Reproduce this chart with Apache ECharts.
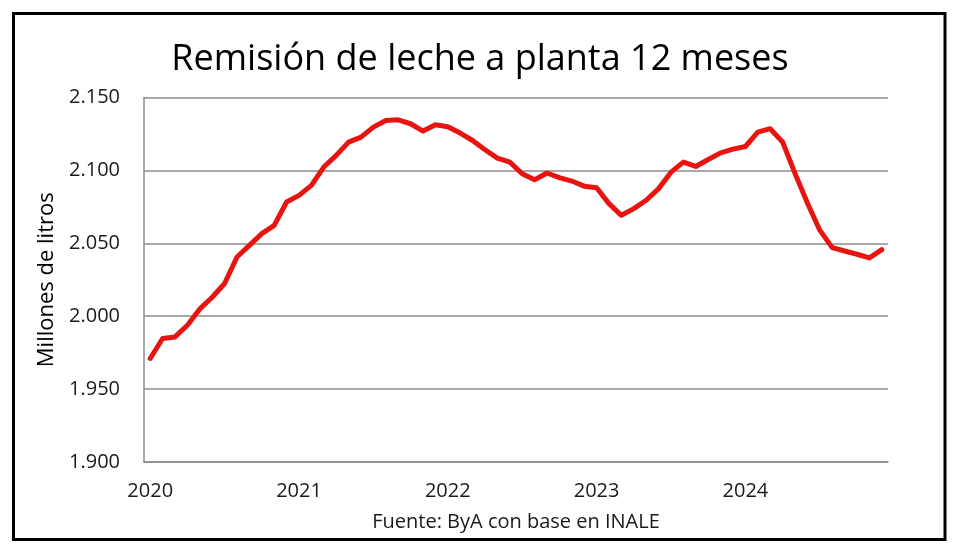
<!DOCTYPE html>
<html>
<head>
<meta charset="utf-8">
<script src="https://cdn.jsdelivr.net/npm/echarts@6/dist/echarts.min.js"></script>
<style>
  html, body { margin: 0; padding: 0; background: #fff; }
  #chart { width: 960px; height: 551px; }
</style>
</head>
<body>
<div id="chart"></div>
<script>
// años del eje x (se muestra uno por enero)
const years = ['2020', '2021', '2022', '2023', '2024'];
const monthsPerYear = 12;

// remisión acumulada 12 meses, millones de litros (ene 2020 - dic 2024)
const remision = [
  1971, 1984.7, 1985.8, 1993.8, 2005, 2013, 2022.4, 2040.6, 2048.6, 2056.6, 2062.3, 2078.3,
  2082.9, 2089.7, 2102.3, 2110.3, 2119.4, 2122.8, 2129.7, 2134.2, 2134.7, 2132, 2127, 2131.3,
  2130, 2125.6, 2120.5, 2114.2, 2108.4, 2105.7, 2097.7, 2093.6, 2098.2, 2095, 2092.7, 2089.2,
  2088.1, 2077.2, 2069.2, 2073.8, 2079.5, 2087.5, 2098.8, 2105.7, 2102.7, 2107.5, 2112, 2114.6,
  2116.4, 2126.2, 2128.6, 2119.5, 2098, 2077.7, 2059, 2047, 2044.7, 2042.5, 2040, 2045.7
];

// categorias mensuales armadas a partir de los años
const meses = [];
years.forEach(y => {
  for (let m = 1; m <= monthsPerYear; m++) meses.push(y + '-' + (m < 10 ? '0' + m : m));
});

const chart = echarts.init(document.getElementById('chart'));
const fontFamily = '"Open Sans", sans-serif';

const option = {
  animation: false,
  backgroundColor: '#fff',
  textStyle: { fontFamily: fontFamily },
  title: {
    text: 'Remisión de leche a planta 12 meses',
    left: 'center',
    top: 37,
    textStyle: { fontFamily: fontFamily, fontSize: 36, fontWeight: 'normal', color: '#000' }
  },
  graphic: [{
    type: 'rect',
    shape: { x: 13.5, y: 13.5, width: 931.5, height: 526 },
    style: { fill: 'none', stroke: '#000', lineWidth: 3 },
    silent: true
  }],
  grid: { left: 144, right: 72, top: 97.5, bottom: 89 },
  xAxis: {
    type: 'category',
    data: meses,
    boundaryGap: true,
    name: 'Fuente: ByA con base en INALE',
    nameLocation: 'middle',
    nameGap: 50,
    nameTextStyle: { fontFamily: fontFamily, fontSize: 20, color: '#1a1a1a' },
    axisLine: { lineStyle: { color: '#8c8c8c', width: 1.5 } },
    axisTick: { show: false },
    axisLabel: {
      interval: (i) => i % monthsPerYear === 0,
      formatter: (v) => v.slice(0, 4),
      margin: 19,
      fontFamily: fontFamily,
      fontSize: 20,
      color: '#1a1a1a'
    }
  },
  yAxis: {
    type: 'value',
    min: 1900,
    max: 2150,
    interval: 50,
    name: 'Millones de litros',
    nameLocation: 'middle',
    nameRotate: 90,
    nameGap: 83,
    nameTextStyle: { fontFamily: fontFamily, fontSize: 22, color: '#000' },
    axisLine: { show: true, lineStyle: { color: '#8c8c8c', width: 1.5 } },
    axisTick: { show: false },
    splitLine: { lineStyle: { color: '#8c8c8c', width: 1.5 } },
    axisLabel: {
      margin: 24,
      fontFamily: fontFamily,
      fontSize: 20,
      color: '#1a1a1a',
      formatter: (v) => (v / 1000).toFixed(3)
    }
  },
  series: [{
    type: 'line',
    data: remision,
    showSymbol: false,
    smooth: false,
    lineStyle: { color: '#e8140f', width: 5, join: 'round', cap: 'round' },
    itemStyle: { color: '#e8140f' }
  }]
};

chart.setOption(option);
</script>
</body>
</html>
